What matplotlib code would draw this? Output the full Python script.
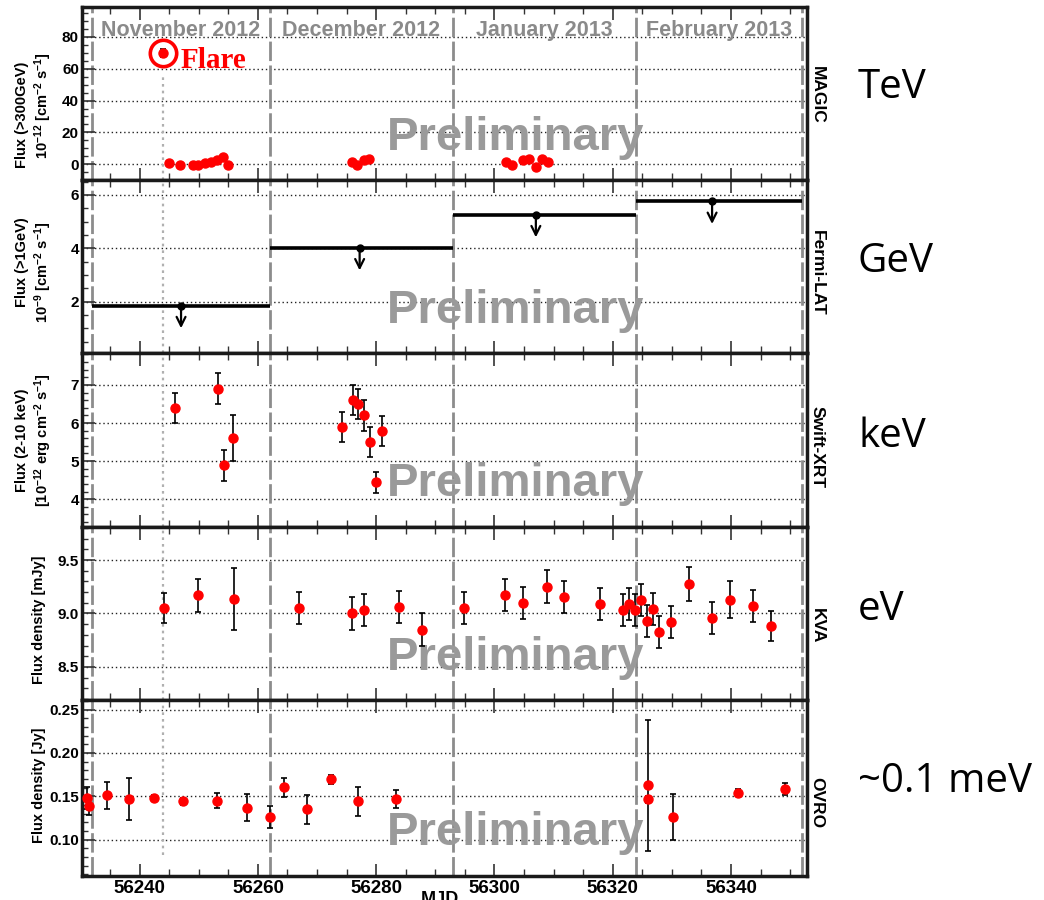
import matplotlib
matplotlib.use('Agg')
import matplotlib.pyplot as plt
from matplotlib import font_manager
from matplotlib.ticker import MultipleLocator, FixedLocator, FixedFormatter

plt.rcParams['font.family'] = ['Liberation Sans', 'DejaVu Sans']
plt.rcParams['mathtext.fontset'] = 'custom'
plt.rcParams['mathtext.rm'] = 'Liberation Sans:bold'
plt.rcParams['mathtext.bf'] = 'Liberation Sans:bold'
plt.rcParams['mathtext.default'] = 'bf'


def has_font(name):
    try:
        font_manager.findfont(font_manager.FontProperties(family=name),
                              fallback_to_default=False)
        return True
    except Exception:
        return False


narrow = None
for cand in ['Liberation Sans Narrow', 'DejaVu Sans Condensed']:
    if has_font(cand):
        narrow = cand
        break

# ---------------- data ----------------
months = ['November 2012', 'December 2012', 'January 2013', 'February 2013']
month_edges = [56232, 56262, 56293, 56324, 56352]
flare_mjd = 56244

magic_mjd = [56244.0, 56245.0, 56246.9, 56249.0, 56249.9, 56251.0, 56252.0, 56253.0,
             56254.1, 56255.0, 56275.9, 56276.8, 56278.0, 56278.8, 56301.9, 56302.9,
             56304.9, 56305.85, 56307.0, 56308.0, 56309.0]
magic_flux = [70.0, 1.0, -0.4, -0.2, -0.2, 1.0, 1.25, 2.7, 4.4, -0.4, 1.5, -0.6, 2.5,
              3.4, 1.7, -0.2, 2.7, 3.6, -1.5, 3.6, 1.25]
magic_err = [2.5, 1.2, 1.0, 1.0, 1.0, 1.0, 1.0, 1.2, 1.2, 1.2, 1.2, 1.2, 1.2, 1.2,
             1.2, 1.2, 1.2, 1.2, 1.2, 1.2, 1.2]

fermi_start = [56232, 56262, 56293, 56324]
fermi_end = [56262, 56293, 56324, 56352]
fermi_ul = [1.85, 4.02, 5.26, 5.76]
fermi_ul_mjd = [56247.0, 56277.2, 56307.0, 56336.8]

xrt_mjd = [56245.9, 56253.2, 56254.2, 56255.8, 56274.2, 56276.0, 56277.0, 56278.0,
           56279.0, 56280.0, 56281.0]
xrt_flux = [6.40, 6.90, 4.89, 5.60, 5.90, 6.60, 6.50, 6.20, 5.50, 4.44, 5.79]
xrt_err = [0.40, 0.40, 0.40, 0.60, 0.40, 0.40, 0.40, 0.40, 0.40, 0.28, 0.40]

kva_mjd = [56244.1, 56249.9, 56255.9, 56266.9, 56275.9, 56277.9, 56283.9, 56287.8,
           56294.9, 56301.8, 56304.8, 56308.8, 56311.8, 56317.8, 56321.8, 56322.8,
           56323.8, 56324.8, 56325.8, 56326.8, 56327.8, 56329.9, 56332.9, 56336.8,
           56339.9, 56343.8, 56346.8]
kva_flux = [9.05, 9.17, 9.14, 9.05, 9.00, 9.03, 9.06, 8.85, 9.05, 9.17, 9.10, 9.25,
            9.15, 9.09, 9.03, 9.09, 9.03, 9.13, 8.93, 9.04, 8.83, 8.92, 9.28, 8.96,
            9.13, 9.07, 8.88]
kva_err = [0.14, 0.155, 0.29, 0.15, 0.15, 0.15, 0.15, 0.15, 0.15, 0.15, 0.15, 0.155,
           0.15, 0.15, 0.15, 0.15, 0.15, 0.15, 0.15, 0.15, 0.15, 0.15, 0.16, 0.15,
           0.17, 0.15, 0.14]

ovro_mjd = [56231.1, 56231.4, 56234.4, 56238.2, 56242.4, 56247.4, 56253.1, 56258.1,
            56262.1, 56264.4, 56268.3, 56272.3, 56277.0, 56283.3, 56325.9, 56325.9,
            56330.2, 56341.2, 56349.1]
ovro_flux = [0.1477, 0.1384, 0.151, 0.147, 0.148, 0.144, 0.145, 0.137, 0.126, 0.1605,
             0.135, 0.1695, 0.144, 0.1465, 0.1625, 0.1465, 0.126, 0.154, 0.158]
ovro_err = [0.0125, 0.010, 0.0155, 0.024, 0.004, 0.004, 0.009, 0.016, 0.013, 0.011,
            0.017, 0.005, 0.017, 0.0105, 0.076, 0.004, 0.027, 0.004, 0.007]

instruments = ['MAGIC', 'Fermi-LAT', 'Swift-XRT', 'KVA', 'OVRO']
energies = ['TeV', 'GeV', 'keV', 'eV', '~0.1 meV']

# ---------------- layout ----------------
W, H = 1044, 900
fig = plt.figure(figsize=(W / 100, H / 100), dpi=100)
left_px, right_px = 81.7, 806.7
edges_px = [7.3, 180, 353.3, 527, 700, 876]
xlim = (56230.2, 56352.8)

ylims = [(-9.9, 98.6), (0.06, 6.56), (3.27, 7.83), (8.19, 9.81), (0.058, 0.261)]
ymajor = [[0, 20, 40, 60, 80], [2, 4, 6], [4, 5, 6, 7], [8.5, 9.0, 9.5],
          [0.10, 0.15, 0.20, 0.25]]
ylabels_fmt = [['0', '20', '40', '60', '80'], ['2', '4', '6'], ['4', '5', '6', '7'],
               ['8.5', '9.0', '9.5'], ['0.10', '0.15', '0.20', '0.25']]
yminor = [5, 0.5, 0.2, 0.1, 0.01]

if narrow:
    prelim_kw = dict(fontsize=40, family=[narrow, 'Liberation Sans'])
    inst_kw = dict(fontsize=14, family=[narrow, 'Liberation Sans'])
else:
    prelim_kw = dict(fontsize=34)
    inst_kw = dict(fontsize=12.5)

axes = []
for i in range(5):
    top = 1 - edges_px[i] / H
    bot = 1 - edges_px[i + 1] / H
    ax = fig.add_axes([left_px / W, bot, (right_px - left_px) / W, top - bot])
    ax.set_xlim(*xlim)
    ax.set_ylim(*ylims[i])
    for s in ax.spines.values():
        s.set_linewidth(2.5)
        s.set_color('#1a1a1a')
    ax.xaxis.set_major_locator(MultipleLocator(20))
    ax.xaxis.set_minor_locator(MultipleLocator(5))
    ax.yaxis.set_major_locator(FixedLocator(ymajor[i]))
    ax.yaxis.set_major_formatter(FixedFormatter(ylabels_fmt[i]))
    ax.yaxis.set_minor_locator(MultipleLocator(yminor[i]))
    ax.tick_params(axis='x', which='both', direction='in', top=True, bottom=True,
                   color='#333333')
    ax.tick_params(axis='x', which='major', length=9, width=1.2)
    ax.tick_params(axis='x', which='minor', length=5, width=1.0)
    ax.tick_params(axis='y', which='both', direction='in', left=True, right=False,
                   color='#333333')
    ax.tick_params(axis='y', which='major', length=9, width=1.2, labelsize=11, pad=2)
    ax.tick_params(axis='y', which='minor', length=4, width=1.0)
    for lab in ax.get_yticklabels():
        lab.set_fontweight('bold')
    if i < 4:
        ax.tick_params(axis='x', labelbottom=False)
    else:
        ax.tick_params(axis='x', labelsize=13.5, pad=3)
        for lab in ax.get_xticklabels():
            lab.set_fontweight('bold')
    for yv in ymajor[i]:
        ax.axhline(yv, color='#222222', lw=1.0, ls=(0, (1, 2)), zorder=1)
    for me in month_edges:
        ax.axvline(me, color='#8c8c8c', lw=2.0, dashes=(7, 1.6), zorder=1)
    ax.text(0.599, 0.245, 'Preliminary', transform=ax.transAxes, ha='center',
            va='center', fontweight='bold', color='#9a9a9a', zorder=2, **prelim_kw)
    axes.append(ax)

for i, ax in enumerate(axes):
    y0, y1 = ylims[i]
    if i == 0:
        seg = [y0, 56]
    elif i == 4:
        seg = [0.082, y1]
    else:
        seg = [y0, y1]
    ax.plot([flare_mjd, flare_mjd], seg, color='#b0b0b0', lw=1.6,
            ls=(0, (1.2, 1.8)), zorder=1.5)

eb = dict(fmt='o', color='red', ms=6.5, mec='red', ecolor='black', elinewidth=1.2,
          capsize=2, capthick=1.2, zorder=5)

# MAGIC
ax = axes[0]
ax.errorbar(magic_mjd, magic_flux, yerr=magic_err, **eb)
ax.plot(magic_mjd[0], magic_flux[0], 'o', ms=19, mfc='none', mec='red', mew=2.6,
        zorder=6)
ax.text(56247.0, 65.0, 'Flare', color='red', fontsize=21, fontweight='bold',
        family=['Liberation Serif', 'DejaVu Serif'], ha='left', va='center', zorder=6)
for k, m in enumerate(months):
    mid = 0.5 * (month_edges[k] + month_edges[k + 1])
    ax.text(mid, 84.2, m, ha='center', va='center', fontsize=15.5, fontweight='bold',
            color='#8a8a8a', zorder=3)

# Fermi
ax = axes[1]
ax.hlines(fermi_ul, fermi_start, fermi_end, color='black', lw=2.6, zorder=4)
ax.plot(fermi_ul_mjd, fermi_ul, 'o', color='black', ms=5, zorder=5)
for xm, yu in zip(fermi_ul_mjd, fermi_ul):
    ax.annotate('', xy=(xm, yu - 0.85), xytext=(xm, yu),
                arrowprops=dict(arrowstyle='->', lw=1.6, color='black',
                                mutation_scale=16, shrinkA=0, shrinkB=0), zorder=5)

axes[2].errorbar(xrt_mjd, xrt_flux, yerr=xrt_err, **eb)
axes[3].errorbar(kva_mjd, kva_flux, yerr=kva_err, **eb)
axes[4].errorbar(ovro_mjd, ovro_flux, yerr=ovro_err, **eb)


def ftext(x, y, s, **kw):
    fig.text(x / W, 1 - y / H, s, **kw)


lab = dict(rotation=90, ha='center', va='center', fontsize=10.5, fontweight='bold')
ftext(22, 115, 'Flux (>300GeV)', **lab)
ftext(43, 106, r'10$^{-12}$ [cm$^{-2}$ s$^{-1}$]', **lab)
ftext(22, 262, 'Flux (>1GeV)', **lab)
ftext(43, 272, r'10$^{-9}$ [cm$^{-2}$ s$^{-1}$]', **lab)
ftext(22, 440, 'Flux (2-10 keV)', **lab)
ftext(43, 440, r'[10$^{-12}$ erg cm$^{-2}$ s$^{-1}$]', **lab)
ftext(39, 620, 'Flux density [mJy]', **lab)
ftext(39, 785, 'Flux density [Jy]', **lab)

inst_y = [95, 273, 447, 626, 803]
for name, yy in zip(instruments, inst_y):
    ftext(817, yy, name, rotation=270, ha='center', va='center',
          fontweight='bold', **inst_kw)

en_y = [88, 262, 437, 610, 782]
for name, yy in zip(energies, en_y):
    ftext(858, yy, name, ha='left', va='center', fontsize=29,
          family=['Open Sans', 'DejaVu Sans'], color='black')

ftext(440, 891, 'MJD', ha='center', va='top', fontsize=13, fontweight='bold')

fig.savefig('out.png', dpi=100)
